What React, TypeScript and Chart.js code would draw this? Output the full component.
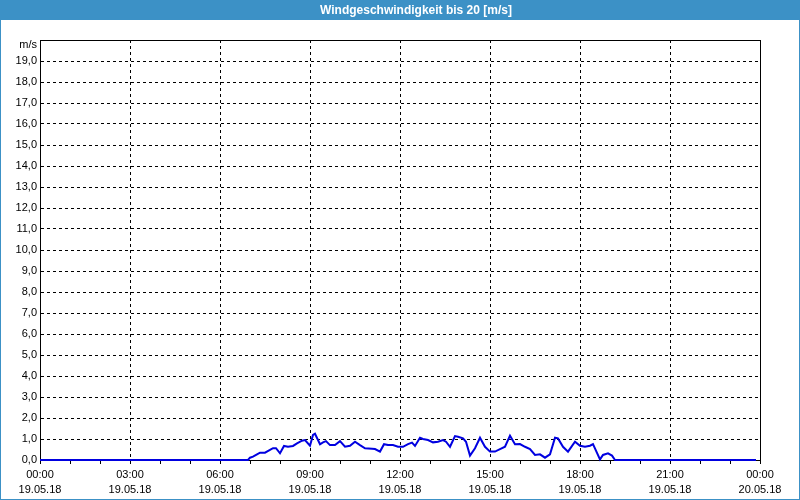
import { useEffect, useRef } from 'react';
import { Chart, registerables } from 'chart.js';

Chart.register(...registerables);

const TITLE = 'Windgeschwindigkeit bis 20 [m/s]';
const UNIT = 'm/s';

// minutes since 19.05.18 00:00
const minutes = [
  0, 416, 420, 426, 434, 440, 450, 460, 466, 472, 480, 488, 496, 506, 514, 524, 530, 540, 546, 550,
  560, 566, 572, 580, 590, 600, 610, 620, 630, 640, 650, 664, 670, 680, 688, 696, 706, 716, 726, 736,
  744, 750, 760, 766, 776, 786, 796, 806, 812, 820, 830, 836, 846, 852, 860, 870, 880, 890, 900, 910,
  920, 930, 940, 950, 960, 970, 980, 990, 1000, 1010, 1020, 1030, 1036, 1046, 1056, 1070, 1080, 1090, 1100, 1106,
  1120, 1126, 1136, 1144, 1150, 1432,
];
// wind speed in m/s
const speeds = [
  0, 0, 0.11, 0.16, 0.27, 0.35, 0.35, 0.48, 0.56, 0.56, 0.32, 0.67, 0.63, 0.67, 0.79, 0.92, 0.95, 0.68, 1.19, 1.25,
  0.75, 0.84, 0.9, 0.71, 0.71, 0.9, 0.63, 0.68, 0.87, 0.71, 0.56, 0.54, 0.52, 0.4, 0.75, 0.71, 0.71, 0.63, 0.63, 0.76,
  0.83, 0.67, 1.06, 1.0, 0.95, 0.84, 0.87, 0.95, 0.87, 0.63, 1.14, 1.11, 1.03, 0.87, 0.21, 0.56, 1.06, 0.63, 0.4, 0.4,
  0.52, 0.63, 1.16, 0.75, 0.76, 0.63, 0.52, 0.24, 0.27, 0.11, 0.27, 1.06, 1.03, 0.63, 0.4, 0.87, 0.68, 0.63, 0.68, 0.76,
  0.03, 0.24, 0.32, 0.21, 0, 0,
];

const xTickTimes = ['00:00', '03:00', '06:00', '09:00', '12:00', '15:00', '18:00', '21:00', '00:00'];
const xTickDates = ['19.05.18', '19.05.18', '19.05.18', '19.05.18', '19.05.18', '19.05.18', '19.05.18', '19.05.18', '20.05.18'];

const BAR_BLUE = '#3c91c6';
const FONT = '"Liberation Sans", Arial, sans-serif';

export default function App() {
  const ref = useRef<HTMLCanvasElement>(null);

  useEffect(() => {
    document.body.style.margin = '0';
    const canvas = ref.current;
    if (!canvas) return;

    const frame = {
      id: 'frame',
      beforeDraw(chart: any) {
        const { ctx, width, height } = chart;
        ctx.save();
        ctx.fillStyle = '#ffffff';
        ctx.fillRect(0, 0, width, height);
        ctx.fillStyle = BAR_BLUE;
        ctx.fillRect(0, 0, width, 20);
        ctx.strokeStyle = BAR_BLUE;
        ctx.lineWidth = 1;
        ctx.strokeRect(0.5, 0.5, width - 1, height - 1);
        ctx.fillStyle = '#ffffff';
        ctx.font = 'bold 12px ' + FONT;
        ctx.textAlign = 'center';
        ctx.textBaseline = 'middle';
        ctx.fillText(TITLE, 416, 11);
        ctx.restore();
      },
      beforeDatasetsDraw(chart: any) {
        const { ctx, chartArea } = chart;
        const { left, right, top } = chartArea;
        ctx.save();
        ctx.strokeStyle = '#000';
        ctx.lineWidth = 1;
        ctx.beginPath();
        ctx.moveTo(left, top + 0.5);
        ctx.lineTo(right + 1, top + 0.5);
        ctx.moveTo(right + 0.5, top);
        ctx.lineTo(right + 0.5, chartArea.bottom + 1);
        ctx.stroke();
        ctx.restore();
      },
    };

    const chart = new Chart(canvas, {
      type: 'line',
      data: {
        datasets: [
          {
            data: minutes.map((m, i) => ({ x: m, y: speeds[i] })),
            borderColor: '#0000e0',
            borderWidth: 2,
            pointRadius: 0,
            tension: 0,
            fill: false,
            clip: false as any,
          },
        ],
      },
      options: {
        responsive: false,
        animation: false,
        events: [],
        layout: { padding: { left: 0, right: 40, top: 40, bottom: 0 }, autoPadding: false } as any,
        plugins: {
          legend: { display: false },
          title: { display: false },
          tooltip: { enabled: false },
        },
        scales: {
          x: {
            type: 'linear',
            min: 0,
            max: 1440,
            afterFit: (s: any) => {
              s.height = 40;
            },
            ticks: {
              stepSize: 60,
              autoSkip: false,
              maxRotation: 0,
              minRotation: 0,
              padding: 3,
              color: '#000',
              font: { family: FONT, size: 11, lineHeight: 15 / 11 },
              callback: (v: any) => {
                const n = Number(v);
                if (n % 180 !== 0) return '';
                const k = n / 180;
                return [xTickTimes[k], xTickDates[k]];
              },
            },
            grid: {
              color: (c: any) => {
                const v = c.tick ? c.tick.value : -1;
                return v % 180 === 0 && v !== 0 && v !== 1440 ? '#000' : 'rgba(0,0,0,0)';
              },
              tickColor: '#000',
              tickLength: 4,
              tickBorderDash: [],
              lineWidth: 1,
            } as any,
            border: { display: true, color: '#000', width: 1, dash: [3, 3] },
          },
          y: {
            type: 'linear',
            min: 0,
            max: 20,
            afterFit: (s: any) => {
              s.width = 40;
            },
            ticks: {
              stepSize: 1,
              autoSkip: false,
              padding: 3,
              color: '#000',
              font: { family: FONT, size: 11, lineHeight: 0.9 },
              callback: (v: any) => {
                const n = Number(v);
                if (n === 20) return ['', UNIT];
                return n.toFixed(1).replace('.', ',');
              },
            },
            grid: {
              drawTicks: false,
              color: (c: any) => {
                const v = c.tick ? c.tick.value : -1;
                return v !== 0 && v !== 20 ? '#000' : 'rgba(0,0,0,0)';
              },
              lineWidth: 1,
            },
            border: { display: true, color: '#000', width: 1, dash: [3, 3] },
          },
        },
      },
      plugins: [frame],
    });

    return () => chart.destroy();
  }, []);

  return (
    <div style={{ width: 800, height: 500, position: 'relative' }}>
      <canvas ref={ref} width={800} height={500} style={{ display: 'block', width: 800, height: 500 }} />
    </div>
  );
}
